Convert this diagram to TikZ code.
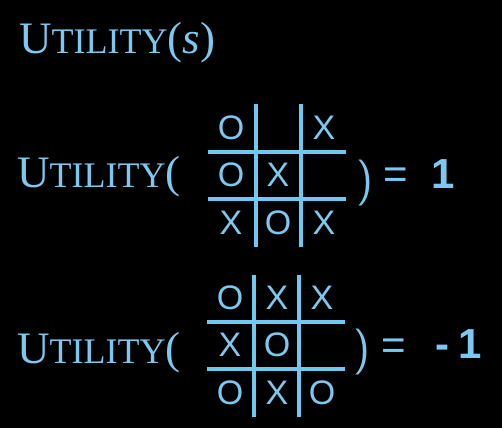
\documentclass[tikz,border=0pt]{standalone}
\usepackage{fontspec}
\newfontfamily\sansf{Liberation Sans}
\newfontfamily\seriff{Liberation Serif}
\definecolor{lblue}{RGB}{125,200,240}
\definecolor{gblue}{RGB}{110,200,240}
\newcommand{\utl}{{\seriff\fontsize{45}{50}\selectfont U\fontsize{36}{40}\selectfont TILITY\fontsize{45}{50}\selectfont}}
\begin{document}
\begin{tikzpicture}[x=1pt,y=-1pt,
  serifT/.style={text=lblue, inner sep=0pt, font=\seriff\fontsize{45}{50}\selectfont},
  piece/.style={text=lblue, inner sep=0pt, font=\sansf\fontsize{34}{38}\selectfont},
  sym/.style={text=lblue, inner sep=0pt, font=\sansf\fontsize{42}{48}\selectfont},
  thinp/.style={text=lblue, inner sep=0pt, font=\sffamily\fontsize{46}{50}\selectfont},
  symb/.style={text=lblue, inner sep=0pt, font=\sansf\bfseries\fontsize{42}{48}\selectfont},
  gridline/.style={draw=gblue, line width=3.6pt}]
\fill[black] (0,0) rectangle (502,428);
\useasboundingbox (0,0) rectangle (502,428);
% title
\node[serifT, anchor=base west] (title) at (19,53) {\utl(\textit{s})};
% row 1
\node[serifT, anchor=base west] (u1) at (17,187) {\utl(};
\draw[gridline] (256,104) -- (256,247) (301,104) -- (301,247)
  (208,152) -- (346,152) (208,199) -- (346,199);
\node[piece] (a11) at (231,128) {O};
\node[piece] (a13) at (324,128) {X};
\node[piece] (a21) at (231,175) {O};
\node[piece] (a22) at (278,175) {X};
\node[piece] (a31) at (231,223) {X};
\node[piece] (a32) at (278,223) {O};
\node[piece] (a33) at (324,223) {X};
\node[thinp, anchor=base west] (p1) at (356,194) {)};
\node[sym, anchor=base west] (e1) at (383,188) {=};
\node[symb, anchor=base west] (v1) at (431,188) {1};
% row 2
\node[serifT, anchor=base west] (u2) at (17,363) {\utl(};
\draw[gridline] (254,275) -- (254,417) (299,275) -- (299,417)
  (207,322) -- (345,322) (207,369) -- (345,369);
\node[piece] (b11) at (230,298) {O};
\node[piece] (b12) at (277,298) {X};
\node[piece] (b13) at (322,298) {X};
\node[piece] (b21) at (230,345) {X};
\node[piece] (b22) at (277,345) {O};
\node[piece] (b31) at (230,393) {O};
\node[piece] (b32) at (277,393) {X};
\node[piece] (b33) at (322,393) {O};
\node[thinp, anchor=base west] (p2) at (353,363) {)};
\node[sym, anchor=base west] (e2) at (381,359) {=};
\node[symb, anchor=base west] (v2) at (435,358) {-\kern9pt1};
\end{tikzpicture}
\end{document}
